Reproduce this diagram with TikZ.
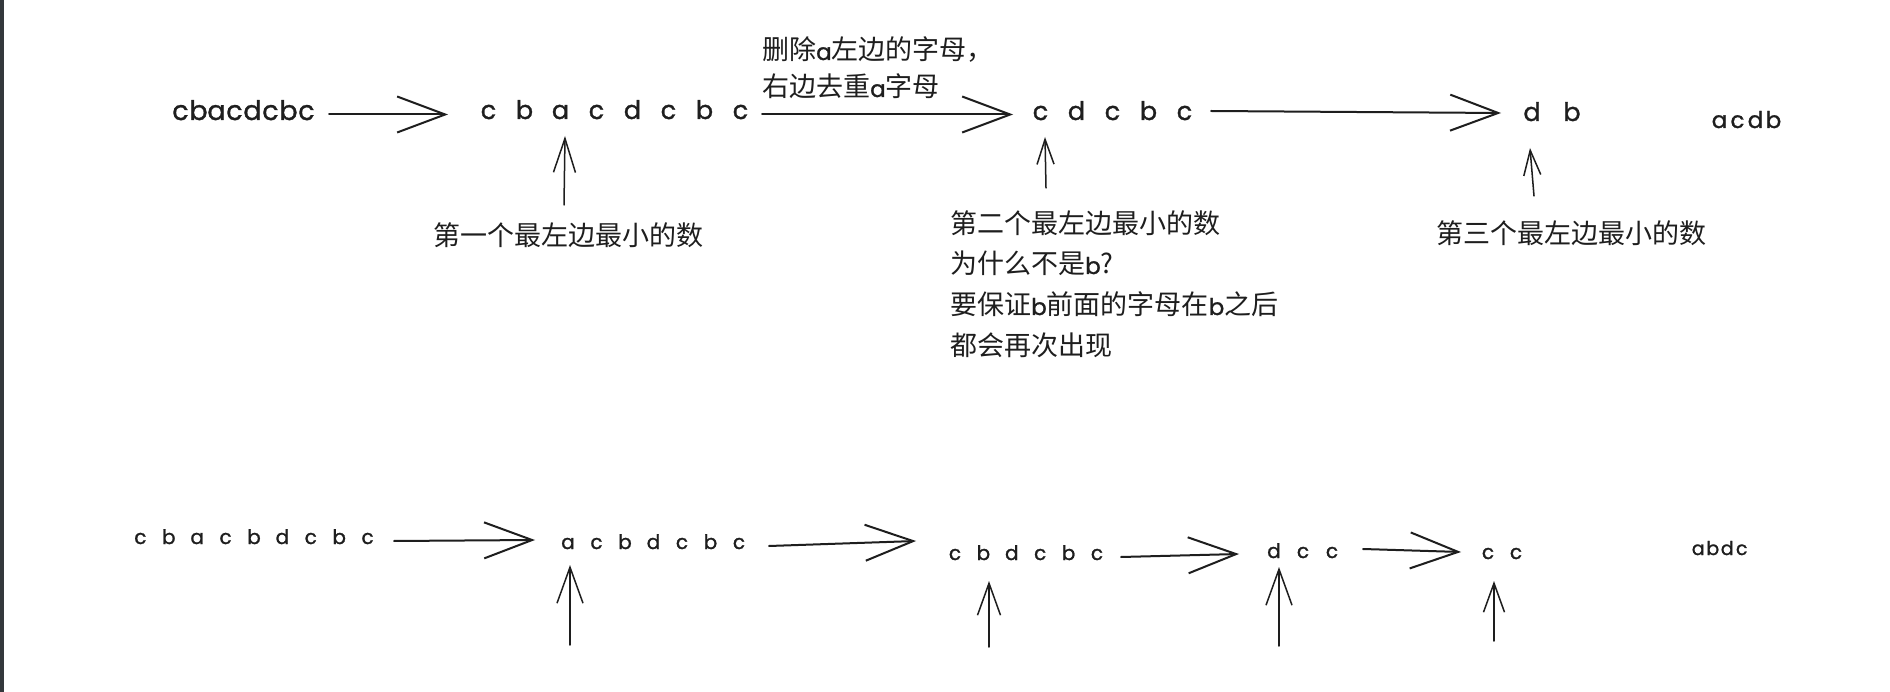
\documentclass[tikz,border=0pt]{standalone}
\usepackage{fontspec}
\setmainfont{Poppins}
\newfontfamily\cjk{Noto Sans CJK SC}
\newfontfamily\handf{Poppins}[FakeBold=1.2]
\usetikzlibrary{arrows.meta}
\definecolor{ink}{HTML}{1E1E1E}
\definecolor{stripc}{HTML}{33383C}
\makeatletter
\newcommand\spaced[2]{\@tfor\sp@ch:=#2\do{\makebox[#1][c]{\sp@ch}}}
\makeatother
\newcommand\lat[1]{{\handf\fontsize{23}{23}\selectfont #1}}
\tikzset{
  lat/.style={font=\handf\fontsize{#1}{#1}\selectfont, text=ink, inner sep=0pt, anchor=base},
  cn/.style={font=\cjk\fontsize{27}{27}\selectfont, text=ink, inner sep=0pt, anchor=base west},
  harr/.style={draw=ink, line width=2pt, line cap=round, -{Straight Barb[length=48pt,width=36pt,line width=2pt]}},
  uarr/.style={draw=ink, line width=1.5pt, line cap=round, -{Straight Barb[length=#1]}},
  uarr/.default={32pt,width=22pt}
}
\begin{document}
\begin{tikzpicture}[x=1pt,y=-1pt]
\useasboundingbox (0,0) rectangle (1890,692);
\fill[white] (0,0) rectangle (1890,692);
\fill[stripc] (0,0) rectangle (4,692);

% top row
\node[lat=27] (s0) at (243.5,120) {\spaced{18pt}{cbacdcbc}};
\node[lat=25.5] (s1) at (614.5,119) {\spaced{36pt}{cbacdcbc}};
\node[lat=25.5] (s2) at (1112.5,120) {\spaced{36pt}{cdcbc}};
\node[lat=25.5] (s3) at (1552,121) {\spaced{40pt}{db}};
\node[lat=23] (r1) at (1746.5,128) {\spaced{18pt}{acdb}};

\node[cn] (m1) at (762,60) {删除\lat{a}左边的字母，};
\node[cn] (m2) at (762,97) {右边去重\lat{a}字母};
\node[cn] (n1) at (433,246) {第一个最左边最小的数};
\node[cn] (n2) at (950,234) {第二个最左边最小的数};
\node[cn] (q1) at (950,274) {为什么不是\lat{b}?};
\node[cn] (q2) at (950,315) {要保证\lat{b}前面的字母在\lat{b}之后};
\node[cn] (q3) at (950,356) {都会再次出现};
\node[cn] (n3) at (1436,244) {第三个最左边最小的数};

% bottom row
\node[lat=20] (t0) at (254,544) {\spaced{28.4pt}{cbacbdcbc}};
\node[lat=20] (t1) at (653.5,549) {\spaced{28.5pt}{acbdcbc}};
\node[lat=20] (t2) at (1026,560) {\spaced{28.4pt}{cbdcbc}};
\node[lat=20] (t3) at (1303,558) {\spaced{29pt}{dcc}};
\node[lat=20] (t4) at (1502,559) {\spaced{28pt}{cc}};
\node[lat=19] (r2) at (1720,555) {\spaced{14.5pt}{abdc}};

% arrow end points
\coordinate (a1s) at (329,114.5); \coordinate (a1e) at (448,114.5);
\coordinate (a2s) at (762,114.5); \coordinate (a2e) at (1013,114.5);
\coordinate (a3s) at (1211,111); \coordinate (a3e) at (1501,113);
\coordinate (b1s) at (394,541); \coordinate (b1e) at (535,540);
\coordinate (b2s) at (769,546); \coordinate (b2e) at (916,541);
\coordinate (b3s) at (1121,557); \coordinate (b3e) at (1239,554);
\coordinate (b4s) at (1363,549); \coordinate (b4e) at (1461,552);
\coordinate (u1s) at (564,205); \coordinate (u1e) at (565,136);
\coordinate (u2s) at (1046,188); \coordinate (u2e) at (1045,137);
\coordinate (u3s) at (1534,196); \coordinate (u3e) at (1530,148);
\coordinate (u4s) at (570,645); \coordinate (u4e) at (570,565);
\coordinate (u5s) at (989,647); \coordinate (u5e) at (989,581);
\coordinate (u6s) at (1279,646); \coordinate (u6e) at (1279,567);
\coordinate (u7s) at (1494,641); \coordinate (u7e) at (1494,581);

\draw[harr] (a1s) -- (a1e);
\draw[harr] (a2s) -- (a2e);
\draw[harr] (a3s) -- (a3e);
\draw[harr] (b1s) -- (b1e);
\draw[harr] (b2s) -- (b2e);
\draw[harr] (b3s) -- (b3e);
\draw[harr] (b4s) -- (b4e);
\draw[uarr={34pt,width=22pt}] (u1s) -- (u1e);
\draw[uarr={25pt,width=17pt}] (u2s) -- (u2e);
\draw[uarr={25pt,width=17pt}] (u3s) -- (u3e);
\draw[uarr={36pt,width=26pt}] (u4s) -- (u4e);
\draw[uarr={32pt,width=23pt}] (u5s) -- (u5e);
\draw[uarr={36pt,width=26pt}] (u6s) -- (u6e);
\draw[uarr={29pt,width=21pt}] (u7s) -- (u7e);
\end{tikzpicture}
\end{document}
